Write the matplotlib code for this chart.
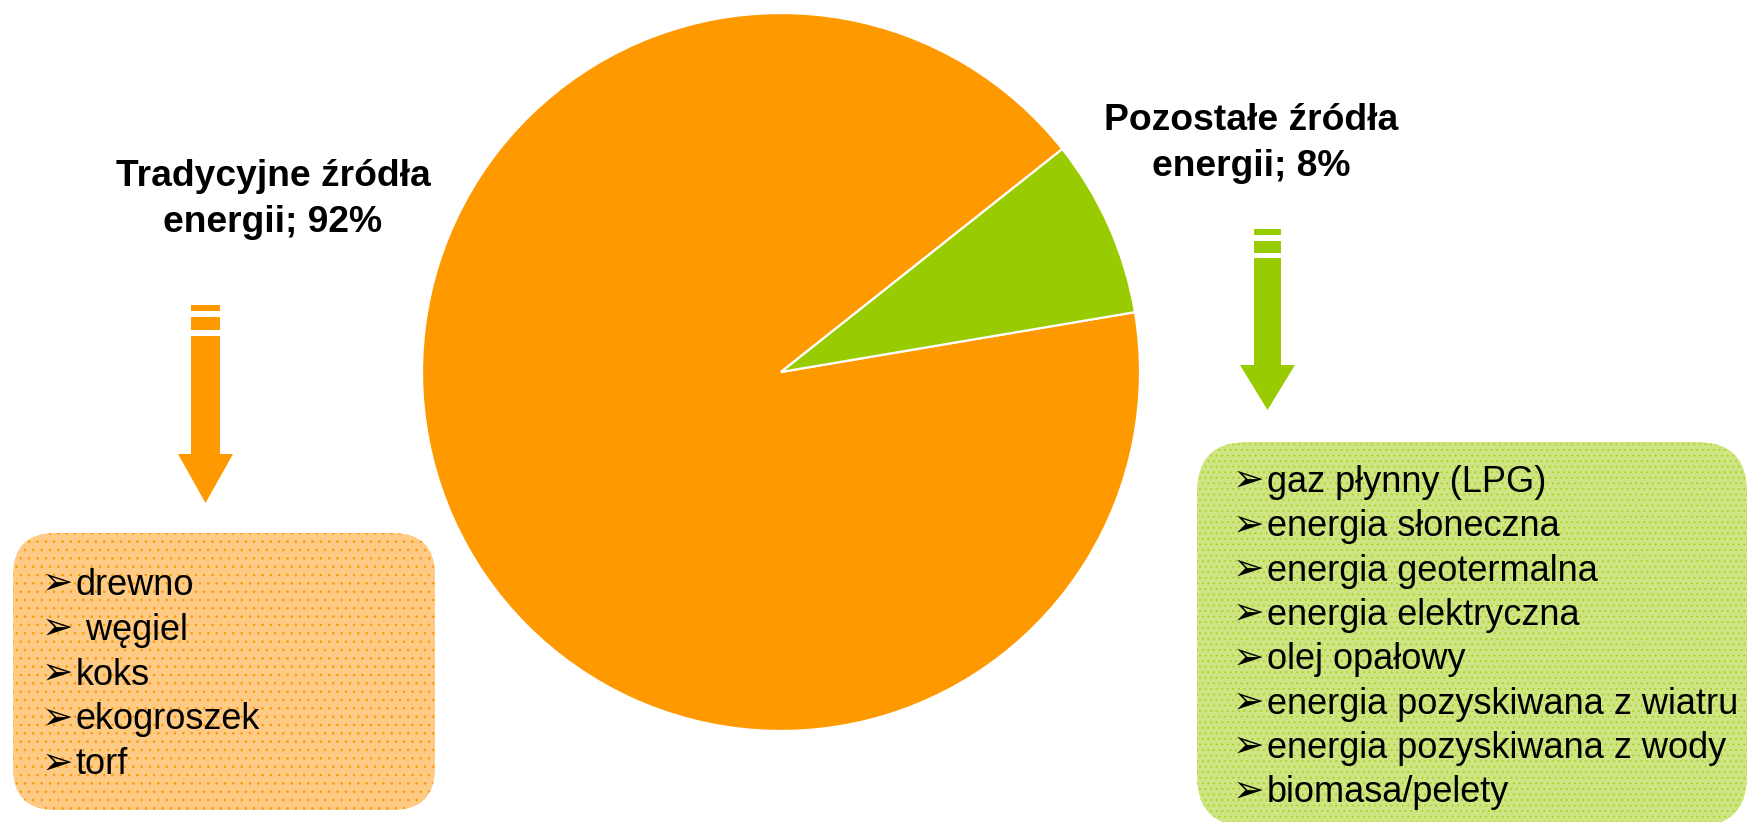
import matplotlib.pyplot as plt
from matplotlib.patches import FancyBboxPatch, Rectangle, Polygon

plt.rcParams['hatch.linewidth'] = 0.6

# shares of heating energy sources
labels = ['Tradycyjne źródła\nenergii; 92%', 'Pozostałe źródła\nenergii; 8%']
shares = [92, 8]
colors = ['#FF9900', '#99CC00']

traditional = ['drewno', ' węgiel', 'koks', 'ekogroszek', 'torf']
other = ['gaz płynny (LPG)', 'energia słoneczna', 'energia geotermalna',
         'energia elektryczna', 'olej opałowy', 'energia pozyskiwana z wiatru',
         'energia pozyskiwana z wody', 'biomasa/pelety']

W, H = 1753, 822
fig = plt.figure(figsize=(W / 100, H / 100), dpi=100)
ax = fig.add_axes([0, 0, 1, 1])
ax.set_xlim(0, W)
ax.set_ylim(0, H)
ax.set_aspect('equal')
ax.axis('off')


def Y(y):
    # pixel rows are counted from the top
    return H - y


ax.pie(shares, colors=colors, center=(781, Y(372)), radius=359,
       startangle=38.4, counterclock=True,
       wedgeprops=dict(edgecolor='white', linewidth=1.6))
ax.set_xlim(0, W)
ax.set_ylim(0, H)

# slice labels, one line at a time
lab_font = dict(family='Liberation Sans', fontsize=26.8, fontweight='bold',
                ha='center', va='baseline')
for i, line in enumerate(labels[0].split('\n')):
    ax.text(273, Y(186 + 46 * i), line, **lab_font)
for i, line in enumerate(labels[1].split('\n')):
    ax.text(1251, Y(130 + 46 * i), line, **lab_font)


def down_arrow(x0, x1, hx0, hx1, bar1, bar2, shaft_top, head_top, tip, color):
    ax.add_patch(Rectangle((x0, Y(bar1[1])), x1 - x0, bar1[1] - bar1[0],
                           facecolor=color, edgecolor='none'))
    ax.add_patch(Rectangle((x0, Y(bar2[1])), x1 - x0, bar2[1] - bar2[0],
                           facecolor=color, edgecolor='none'))
    ax.add_patch(Polygon([(x0, Y(shaft_top)), (x1, Y(shaft_top)), (x1, Y(head_top)),
                          (hx1, Y(head_top)), ((hx0 + hx1) / 2, Y(tip)),
                          (hx0, Y(head_top)), (x0, Y(head_top))],
                         closed=True, facecolor=color, edgecolor='none'))


down_arrow(191, 220, 178, 233, (305, 311), (317, 330), 336, 454, 503, colors[0])
down_arrow(1254, 1281, 1240, 1295, (229, 235), (241, 253), 258, 365, 410, colors[1])

# rounded boxes with dotted fill
left_box = FancyBboxPatch((13, Y(810)), 422, 277,
                          boxstyle='round,pad=0,rounding_size=42',
                          facecolor='#FDCB85', edgecolor='#FF9900',
                          linewidth=0, hatch='..')
right_box = FancyBboxPatch((1197, Y(826)), 550, 384,
                           boxstyle='round,pad=0,rounding_size=50',
                           facecolor='#CDE582', edgecolor='#A8D21E',
                           linewidth=0, hatch='...')
ax.add_patch(left_box)
ax.add_patch(right_box)

item_font = dict(family='Liberation Sans', va='baseline', ha='left', color='black')
bullet_font = dict(family='DejaVu Sans', va='baseline', ha='right', color='black')

for i, item in enumerate(traditional):
    yb = Y(595 + 44.8 * i)
    ax.text(73, yb + 1, '➢', fontsize=27, **bullet_font)
    ax.text(76, yb, item, fontsize=26, **item_font)

for i, item in enumerate(other):
    yb = Y(492 + 44.3 * i)
    ax.text(1264, yb + 1, '➢', fontsize=27, **bullet_font)
    ax.text(1267, yb, item, fontsize=26, **item_font)

fig.savefig('out.png', dpi=100)
